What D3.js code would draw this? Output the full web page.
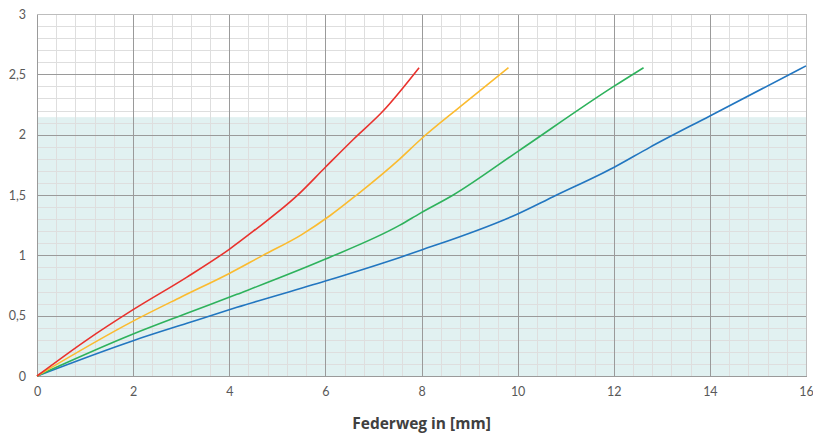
<!DOCTYPE html>
<html><head><meta charset="utf-8">
<script src="https://cdn.jsdelivr.net/npm/d3@7"></script>
<style>body{margin:0;background:#fff}svg{display:block}</style>
</head><body>
<svg id="c" width="813" height="436"></svg>
<script>
const xTicks = [0,2,4,6,8,10,12,14,16];
const yTicks = [0,0.5,1,1.5,2,2.5,3];
const yTickLabels = ["0","0,5","1","1,5","2","2,5","3"];
const xTitle = "Federweg in [mm]";
const bandTop = 2.145;
const redX = [0,1.04,2,3.12,4,4.5,5.4,6,6.58,7.21,7.95];
const redY = [0,0.30,0.55,0.82,1.05,1.20,1.49,1.73,1.96,2.20,2.555];
const yellowX = [0,2,3,4,4.7,5.5,6.1,6.65,7.55,7.97,8.8,9.81];
const yellowY = [0,0.455,0.655,0.85,1.0,1.17,1.33,1.50,1.80,1.956,2.23,2.555];
const greenX = [0,2,3.12,4.16,5.99,7.55,7.97,8.66,10,12,12.62];
const greenY = [0,0.348,0.52,0.677,0.967,1.25,1.348,1.50,1.86,2.40,2.555];
const blueX = [0,2,3.12,4.16,6,7.55,8,10,10.74,12,12.75,14,16];
const blueY = [0,0.293,0.437,0.569,0.787,0.983,1.044,1.343,1.486,1.728,1.895,2.155,2.57];
const seriesColors = ["#2276c0","#2eb25c","#fbbb2f","#e9322d"];

const svg = d3.select("#c");
const L=37,R=806,T=14,B=376;
const x = d3.scaleLinear().domain([0,16]).range([L,R]);
const y = d3.scaleLinear().domain([0,3]).range([B,T]);

svg.append("rect").attr("x",L).attr("y",y(bandTop)).attr("width",R-L).attr("height",B-y(bandTop)).attr("fill","#e1f1f1");

const minorX = d3.range(0,16.001,0.4).filter(v=>Math.abs(v/2-Math.round(v/2))>1e-6);
const minorY = d3.range(0,3.001,0.1).filter(v=>Math.abs(v/0.5-Math.round(v/0.5))>1e-6);
const g = svg.append("g").attr("shape-rendering","crispEdges");
g.selectAll(".mx").data(minorX).join("line").attr("x1",d=>Math.round(x(d))+0.5).attr("x2",d=>Math.round(x(d))+0.5).attr("y1",T).attr("y2",B).attr("stroke","#dedede").attr("stroke-width",1.5);
g.selectAll(".my").data(minorY).join("line").attr("y1",d=>Math.round(y(d))+0.5).attr("y2",d=>Math.round(y(d))+0.5).attr("x1",L).attr("x2",R).attr("stroke","#dedede").attr("stroke-width",1.5);
g.selectAll(".Mx").data(xTicks.slice(0,-1)).join("line").attr("x1",d=>Math.round(x(d))+0.5).attr("x2",d=>Math.round(x(d))+0.5).attr("y1",T).attr("y2",B).attr("stroke","#9a9a9a").attr("stroke-width",1);
g.selectAll(".My").data(yTicks.slice(1,-1)).join("line").attr("y1",d=>Math.round(y(d))+0.5).attr("y2",d=>Math.round(y(d))+0.5).attr("x1",L).attr("x2",R).attr("stroke","#9a9a9a").attr("stroke-width",1);
g.append("line").attr("x1",L).attr("x2",R).attr("y1",T+0.5).attr("y2",T+0.5).attr("stroke","#bdbdbd");
g.append("line").attr("x1",R+0.5).attr("x2",R+0.5).attr("y1",T).attr("y2",B).attr("stroke","#bdbdbd");
g.append("line").attr("x1",L).attr("x2",R+1).attr("y1",B+0.5).attr("y2",B+0.5).attr("stroke","#9a9a9a");

const xAxis = d3.axisBottom(x).tickValues(xTicks).tickSize(0).tickPadding(11).tickFormat(d=>String(d));
const ax = svg.append("g").attr("transform",`translate(0,${B})`).call(xAxis);
ax.select(".domain").remove();
ax.selectAll("text").attr("font-family","Lato, 'Open Sans', sans-serif").attr("font-size",12.5).attr("fill","#595959");
const yAxis = d3.axisLeft(y).tickValues(yTicks).tickSize(0).tickPadding(11).tickFormat((d,i)=>yTickLabels[i]);
const ay = svg.append("g").attr("transform",`translate(${L},0)`).call(yAxis);
ay.select(".domain").remove();
ay.selectAll("text").attr("font-family","Lato, 'Open Sans', sans-serif").attr("font-size",12.5).attr("fill","#595959");

svg.append("text").attr("x",(L+R)/2).attr("y",429).attr("text-anchor","middle").attr("font-family","'Open Sans', Lato, sans-serif").attr("font-weight","bold").attr("font-size",15.5).attr("fill","#404040").text(xTitle);

const series = [[blueX,blueY],[greenX,greenY],[yellowX,yellowY],[redX,redY]];
const line = d3.line().x(d=>x(d[0])).y(d=>y(d[1])).curve(d3.curveMonotoneX);
series.forEach((s,i)=>{
  const pts = s[0].map((v,j)=>[v,s[1][j]]);
  svg.append("path").attr("d",line(pts)).attr("fill","none").attr("stroke",seriesColors[i]).attr("stroke-width",1.6);
});
</script>
</body></html>
